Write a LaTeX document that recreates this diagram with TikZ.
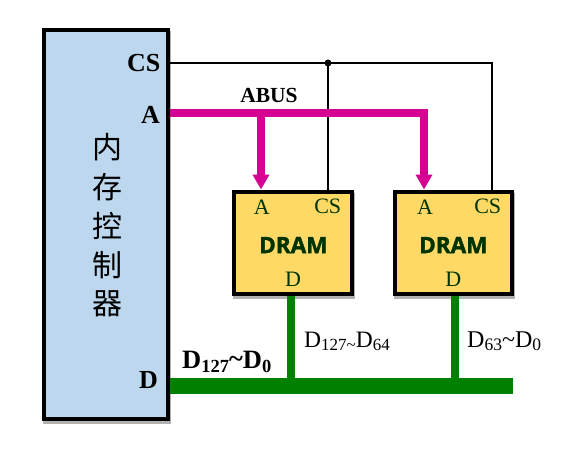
\documentclass[tikz,border=0pt]{standalone}
\usepackage{fontspec}
\setmainfont{Liberation Serif}
\newfontfamily\cjkfont{Noto Sans CJK SC}
\newfontfamily\dramfont[BoldFeatures={FakeBold=1.6}]{Open Sans}
\usetikzlibrary{arrows.meta,shadows}
\definecolor{ctrlblue}{HTML}{BDD7EE}
\definecolor{dramyellow}{HTML}{FFD966}
\definecolor{busgreen}{HTML}{008000}
\definecolor{busmagenta}{HTML}{D60093}
\definecolor{pindark}{HTML}{003300}
\tikzset{
  x=1pt,y=-1pt,
  chipbox/.style={draw=black,line width=4pt,inner sep=0pt,outer sep=0pt,
    general shadow={fill=black!30,draw=black!30,line width=4pt,shadow xshift=1pt,shadow yshift=-2.5pt}},
  ctrlbox/.style={chipbox,fill=ctrlblue,minimum width=124pt,minimum height=389pt},
  drambox/.style={chipbox,fill=dramyellow,minimum height=102pt},
  pinlabel/.style={text=pindark,font=\fontsize{22}{22}\selectfont,inner sep=0pt},
  ctrlpin/.style={font=\fontsize{26}{26}\selectfont\bfseries,inner sep=0pt,anchor=east},
  dramtitle/.style={text=pindark,font=\fontsize{22.5}{24}\dramfont\bfseries,inner sep=0pt},
  buslabel/.style={inner sep=0pt},
  hanzi/.style={font=\fontsize{30}{30}\cjkfont,inner sep=0pt},
  selline/.style={draw=black,line width=2pt},
  addrbus/.style={draw=busmagenta,line width=8pt},
  addrarrow/.style={draw=busmagenta,line width=8pt,-{Triangle[length=15pt,width=16pt]}},
  databus/.style={draw=busgreen,line width=16pt},
  datastub/.style={draw=busgreen,line width=8pt},
}
\begin{document}
\begin{tikzpicture}
\useasboundingbox (0,0) rectangle (564,456);
\coordinate (csjunc) at (328,63);
\coordinate (csturn) at (491.5,63);
\coordinate (abend) at (424,113);
\coordinate (abjunc) at (261,113);
\coordinate (dbend) at (513,386);
\coordinate (dbj1) at (291,386);
\coordinate (dbj2) at (455,386);

\node[ctrlbox] (ctrl) at (106,224.5) {};
\node[drambox,minimum width=118pt] (d1) at (293,243) {};
\node[drambox,minimum width=117pt] (d2) at (453.5,243) {};

\coordinate (ctrlcs) at ([xshift=2pt]ctrl.east |- csjunc);
\coordinate (ctrla) at ([xshift=2pt]ctrl.east |- abjunc);
\coordinate (ctrld) at ([xshift=2pt]ctrl.east |- dbend);
\coordinate (d1a) at (abjunc |- d1.north);
\coordinate (d2a) at (abend |- d2.north);
\coordinate (d1cs) at ([yshift=2pt]csjunc |- d1.north);
\coordinate (d2cs) at ([yshift=2pt]csturn |- d2.north);
\coordinate (d1d) at ([yshift=-2pt]dbj1 |- d1.south);
\coordinate (d2d) at ([yshift=-2pt]dbj2 |- d2.south);

\draw[selline] (ctrlcs) -- (csturn) -- (d2cs);
\draw[selline] (csjunc) -- (d1cs);
\fill[black] (csjunc) circle (3.5pt);

\draw[addrbus] (ctrla) -- (abend);
\draw[addrarrow] (abjunc) -- ([yshift=2.5pt]d1a);
\draw[addrarrow] ([yshift=4pt]abend) -- ([yshift=2.5pt]d2a);

\draw[datastub] (d1d) -- (dbj1);
\draw[datastub] (d2d) -- (dbj2);
\draw[databus] (ctrld) -- (dbend);

% controller labels
\node[ctrlpin] (lcs) at (160.5,63) {CS};
\node[ctrlpin] (la) at (160,114.5) {A};
\node[ctrlpin] (ld) at (158,380.5) {D};
\node[hanzi] (h1) at (107,147) {内};
\node[hanzi] (h2) at (107,187) {存};
\node[hanzi] (h3) at (107,226) {控};
\node[hanzi] (h4) at (107,265) {制};
\node[hanzi] (h5) at (107,304) {器};

% DRAM labels
\node[pinlabel] (a1) at (261.7,207) {A};
\node[pinlabel] (c1) at (327.7,206.5) {CS};
\node[dramtitle] (t1) at (293.3,245) {DRAM};
\node[pinlabel] (p1) at (293,279) {D};
\node[pinlabel] (a2) at (425,207) {A};
\node[pinlabel] (c2) at (487.7,206.5) {CS};
\node[dramtitle] (t2) at (453.3,245) {DRAM};
\node[pinlabel] (p2) at (453.3,279) {D};

% bus labels
\node[buslabel,font=\fontsize{21.5}{21.5}\selectfont\bfseries] (abus) at (269,95.5) {ABUS};
\node[buslabel,font=\fontsize{26.5}{26.5}\selectfont\bfseries,anchor=base west] (dall) at (182,368)
  {D\raisebox{-4pt}{\fontsize{18.5}{18.5}\selectfont 127}\raisebox{1pt}{\char`\~}D\raisebox{-4pt}{\fontsize{18.5}{18.5}\selectfont 0}};
\node[buslabel,font=\fontsize{23.5}{23.5}\selectfont,anchor=base west] (dhi) at (304,347)
  {D\raisebox{-3.5pt}{\fontsize{17}{17}\selectfont 127\char`\~}D\raisebox{-3.5pt}{\fontsize{17}{17}\selectfont 64}};
\node[buslabel,font=\fontsize{24}{24}\selectfont,anchor=base west] (dlo) at (467,347)
  {D\raisebox{-3.5pt}{\fontsize{17.5}{17.5}\selectfont 63}\char`\~D\raisebox{-3.5pt}{\fontsize{17.5}{17.5}\selectfont 0}};
\end{tikzpicture}
\end{document}
